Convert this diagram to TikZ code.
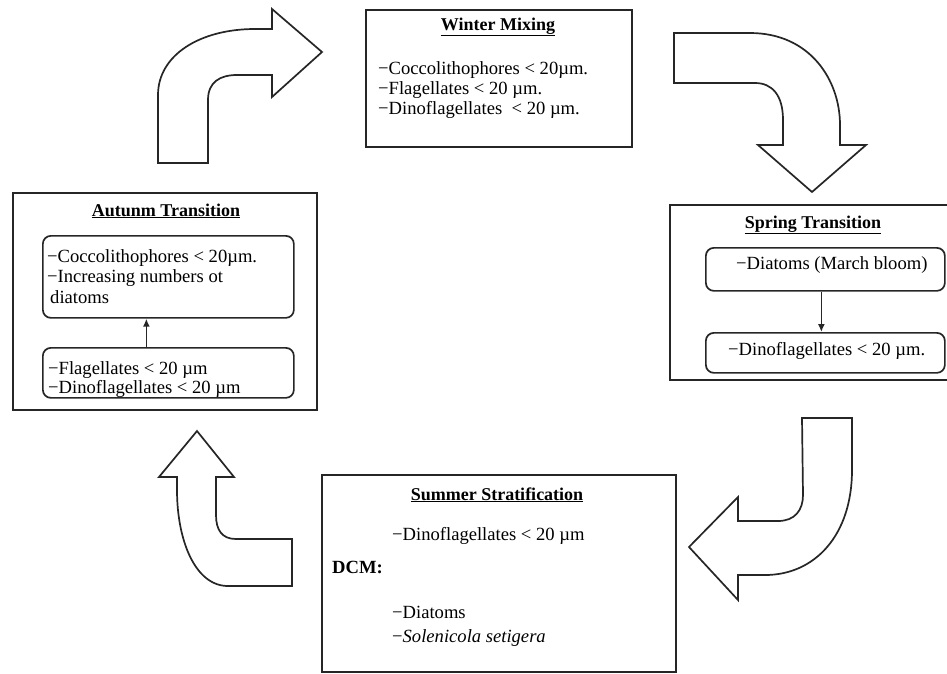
\documentclass[tikz,border=0pt]{standalone}
\usepackage{fontspec}
\setmainfont{Liberation Serif}
\usetikzlibrary{arrows.meta}
\begin{document}
\begin{tikzpicture}[x=1pt,y=-1pt,
  frame/.style={draw=black!85, line width=1.8pt, inner sep=0pt, anchor=north west},
  inbox/.style={draw=black!85, line width=1.7pt, rounded corners=8pt, inner sep=0pt, anchor=north west},
  bigarrow/.style={draw=black!85, fill=white, line width=1.7pt, line join=miter},
  txt/.style={anchor=base west, inner sep=0pt, font=\fontsize{18.6}{20}\selectfont},
  ttl/.style={anchor=base, inner sep=0pt, font=\fontsize{18}{20}\selectfont\bfseries},
  smallarrow/.style={-{Latex[length=8pt,width=7pt]}, line width=1.5pt, draw=black!85}]
\useasboundingbox (0,0) rectangle (947,673);
\clip (0,0) rectangle (947,673);

% ---------- big curved arrows ----------
% top-left (up, then right)
\draw[bigarrow] (158,163) -- (158,95) .. controls (158,55) and (200,29) .. (255,29)
  -- (272,29) -- (272,9) -- (322,52) -- (272,97) -- (272,75) -- (237,75)
  .. controls (220,75) and (208,82) .. (208,100) -- (208,163) -- cycle;
% top-right (right, then down)
\draw[bigarrow] (674,33) -- (750,33) .. controls (810,33) and (840,80) .. (840,125)
  -- (840,145) -- (866,145) -- (812,192) -- (758,145) -- (783,145) -- (783,120)
  .. controls (783,95) and (772,83) .. (755,83) -- (674,83) -- cycle;
% bottom-right (down, then left)
\draw[bigarrow] (802,418) -- (852,418) -- (852,470) .. controls (852,535) and (815,575) .. (765,575)
  -- (738,575) -- (738,600) -- (689,547) -- (738,497) -- (738,521) -- (778,521)
  .. controls (795,521) and (803,510) .. (803,495) -- cycle;
% bottom-left (left, then up)
\draw[bigarrow] (197,431) -- (234,477) -- (216,477) -- (216,515) .. controls (216,530) and (222,539) .. (236,539)
  -- (292,539) -- (292,586) -- (228,586) .. controls (195,586) and (177,540) .. (177,490)
  -- (177,477) -- (159,477) -- cycle;

% ---------- Winter Mixing ----------
\node[frame, minimum width=266pt, minimum height=137pt] (winter) at (365,9) {};
\node[ttl] (wt) at (498,30) {\underline{Winter Mixing}};
\node[txt] (w1) at (378,74) {−Coccolithophores < 20µm.};
\node[txt] (w2) at (378,94) {−Flagellates < 20 µm.};
\node[txt] (w3) at (378,114) {−Dinoflagellates \ < 20 µm.};

% ---------- Spring Transition ----------
\node[frame, minimum width=285pt, minimum height=175pt] (spring) at (669,204) {};
\node[ttl] (st) at (813,228) {\underline{Spring Transition}};
\node[inbox, minimum width=239pt, minimum height=43pt] (sp1) at (705,247) {};
\node[inbox, minimum width=239pt, minimum height=40pt] (sp2) at (705,332) {};
\node[txt] (s1) at (736,269) {−Diatoms (March bloom)};
\node[txt] (s2) at (728,355) {−Dinoflagellates < 20 µm.};
\draw[smallarrow] ([xshift=-4pt]sp1.south) -- ([xshift=-4pt]sp2.north);

% ---------- Autumn Transition ----------
\node[frame, minimum width=304pt, minimum height=217pt] (autumn) at (12,192) {};
\node[ttl] (at) at (166,216) {\underline{Autunm Transition}};
\node[inbox, minimum width=251pt, minimum height=82pt] (au1) at (42,235) {};
\node[inbox, minimum width=251pt, minimum height=50pt] (au2) at (42,347) {};
\node[txt] (a1) at (47,262) {−Coccolithophores < 20µm.};
\node[txt] (a2) at (47,282) {−Increasing numbers ot};
\node[txt] (a3) at (50,303) {diatoms};
\node[txt] (a4) at (48,374) {−Flagellates < 20 µm};
\node[txt] (a5) at (48,393) {−Dinoflagellates < 20 µm};
\draw[smallarrow] ([xshift=-22pt]au2.north) -- ([xshift=-22pt]au1.south);

% ---------- Summer Stratification ----------
\node[frame, minimum width=354pt, minimum height=197pt] (summer) at (321,474) {};
\node[ttl] (ut) at (497,500) {\underline{Summer Stratification}};
\node[txt] (u1) at (392,540) {−Dinoflagellates < 20 µm};
\node[txt, font=\fontsize{18.6}{20}\selectfont\bfseries] (u2) at (332,573) {DCM:};
\node[txt] (u3) at (392,618) {−Diatoms};
\node[txt] (u4) at (392,642) {−\textit{Solenicola setigera}};
\end{tikzpicture}
\end{document}
